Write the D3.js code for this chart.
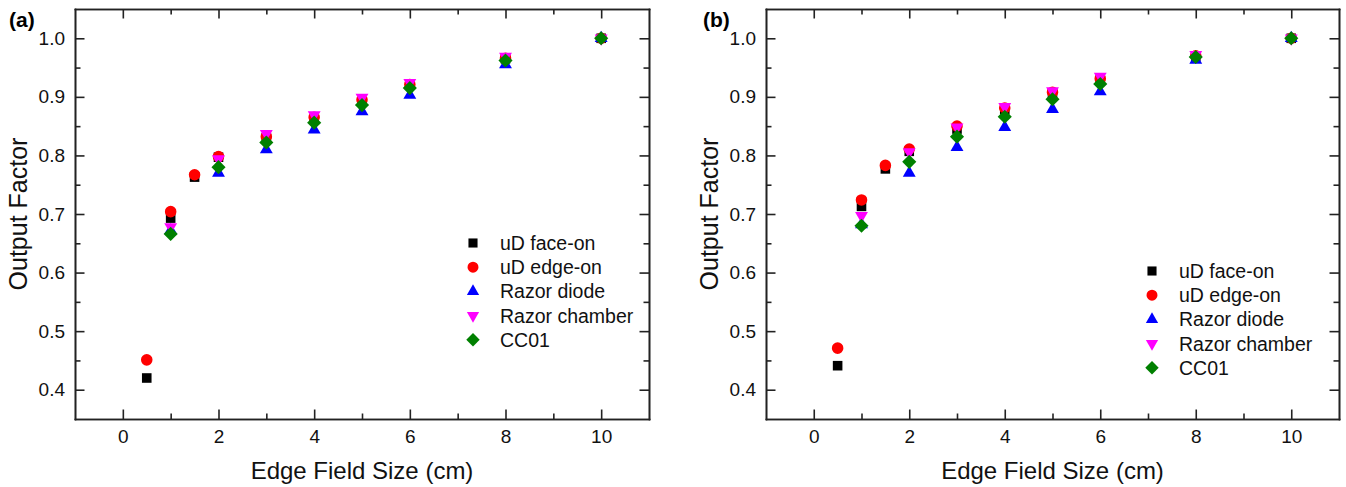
<!DOCTYPE html>
<html>
<head>
<meta charset="utf-8">
<script src="https://cdn.jsdelivr.net/npm/d3@7"></script>
<style>
  html, body { margin: 0; padding: 0; background: #fff; }
  svg { display: block; font-family: "Liberation Sans", Arial, Helvetica, sans-serif; }
  .axis path, .axis line { stroke: #222; stroke-width: 1.6; }
  .axis text { fill: #111; font-size: 19px; }
</style>
</head>
<body>
<svg id="chart" width="1346" height="487"></svg>
<script>
// Field sizes (cm)
const sizesMicroDiamond = [0.5, 1, 1.5, 2, 3, 4, 5, 6, 8, 10];
const sizesOther = [1, 2, 3, 4, 5, 6, 8, 10];

// Panel (a) output factors
const faceOnA       = [0.420, 0.693, 0.763, 0.797, 0.830, 0.862, 0.892, 0.920, 0.965, 1.000];
const edgeOnA       = [0.451, 0.704, 0.767, 0.798, 0.832, 0.865, 0.895, 0.921, 0.966, 1.000];
const razorDiodeA   = [0.672, 0.770, 0.810, 0.844, 0.875, 0.903, 0.955, 1.000];
const razorChamberA = [0.678, 0.794, 0.837, 0.869, 0.899, 0.924, 0.969, 1.000];
const cc01A         = [0.666, 0.780, 0.822, 0.856, 0.886, 0.915, 0.962, 1.000];

// Panel (b) output factors
const faceOnB       = [0.441, 0.713, 0.777, 0.807, 0.845, 0.878, 0.905, 0.930, 0.969, 1.000];
const edgeOnB       = [0.471, 0.724, 0.783, 0.811, 0.850, 0.881, 0.908, 0.931, 0.970, 1.000];
const razorDiodeB   = [0.682, 0.770, 0.814, 0.848, 0.879, 0.909, 0.963, 1.000];
const razorChamberB = [0.697, 0.806, 0.848, 0.883, 0.910, 0.935, 0.972, 1.000];
const cc01B         = [0.680, 0.789, 0.832, 0.866, 0.896, 0.922, 0.968, 1.000];

const seriesNames = ["uD face-on", "uD edge-on", "Razor diode", "Razor chamber", "CC01"];
const seriesColors = ["#000000", "#ff0000", "#0000ff", "#ff00ff", "#008000"];

const xTicksMajor = [0, 2, 4, 6, 8, 10];
const xTicksMinor = [1, 3, 5, 7, 9];
const yTicksMajor = [0.4, 0.5, 0.6, 0.7, 0.8, 0.9, 1.0];
const yTicksMinor = [0.45, 0.55, 0.65, 0.75, 0.85, 0.95];

const xLabel = "Edge Field Size (cm)";
const yLabel = "Output Factor";

// Marker shapes for each series
const shapes = [
  { type: d3.symbolSquare, size: 92, rotate: 0 },
  { type: d3.symbolCircle, size: 105, rotate: 0 },
  { type: d3.symbolTriangle, size: 72, rotate: 0 },
  { type: d3.symbolTriangle, size: 72, rotate: 180 },
  { type: d3.symbolSquare, size: 100, rotate: 45 }
];

const svg = d3.select("#chart");

function drawPanel(cfg) {
  const { left, top, width, height, tag, values, legendX, legendY } = cfg;
  const g = svg.append("g").attr("transform", `translate(${left},${top})`);

  const x = d3.scaleLinear().domain([-1, 11]).range([0, width]);
  const y = d3.scaleLinear().domain([0.35, 1.05]).range([height, 0]);

  const major = 9.5, minor = 5.5;

  // Minor ticks (all four sides)
  g.append("g").attr("class", "axis").attr("transform", `translate(0,${height})`)
    .call(d3.axisBottom(x).tickValues(xTicksMinor).tickSize(-minor).tickSizeOuter(0).tickFormat(""));
  g.append("g").attr("class", "axis")
    .call(d3.axisTop(x).tickValues(xTicksMinor).tickSize(-minor).tickSizeOuter(0).tickFormat(""));
  g.append("g").attr("class", "axis")
    .call(d3.axisLeft(y).tickValues(yTicksMinor).tickSize(-minor).tickSizeOuter(0).tickFormat(""));
  g.append("g").attr("class", "axis").attr("transform", `translate(${width},0)`)
    .call(d3.axisRight(y).tickValues(yTicksMinor).tickSize(-minor).tickSizeOuter(0).tickFormat(""));

  // Major ticks with labels on bottom and left, mirrored unlabeled on top and right
  g.append("g").attr("class", "axis").attr("transform", `translate(0,${height})`)
    .call(d3.axisBottom(x).tickValues(xTicksMajor).tickSize(-major).tickSizeOuter(0)
      .tickPadding(11).tickFormat(d3.format("d")));
  g.append("g").attr("class", "axis")
    .call(d3.axisTop(x).tickValues(xTicksMajor).tickSize(-major).tickSizeOuter(0).tickFormat(""));
  g.append("g").attr("class", "axis")
    .call(d3.axisLeft(y).tickValues(yTicksMajor).tickSize(-major).tickSizeOuter(0)
      .tickPadding(10).tickFormat(d3.format(".1f")));
  g.append("g").attr("class", "axis").attr("transform", `translate(${width},0)`)
    .call(d3.axisRight(y).tickValues(yTicksMajor).tickSize(-major).tickSizeOuter(0).tickFormat(""));

  g.selectAll(".axis path").attr("stroke-linecap", "square");

  // Axis titles
  g.append("text")
    .attr("x", width / 2).attr("y", height + 60)
    .attr("text-anchor", "middle")
    .attr("font-size", 24).attr("fill", "#111")
    .text(xLabel);
  g.append("text")
    .attr("transform", `translate(${-48},${height / 2}) rotate(-90)`)
    .attr("text-anchor", "middle")
    .attr("font-size", 25).attr("fill", "#111")
    .text(yLabel);

  // Panel tag
  svg.append("text")
    .attr("x", cfg.tagX).attr("y", 27)
    .attr("font-size", 21).attr("font-weight", "bold").attr("fill", "#000")
    .text(tag);

  // Data markers
  values.forEach((vals, i) => {
    const xs = i < 2 ? sizesMicroDiamond : sizesOther;
    const pts = xs.map((s, j) => ({ s, v: vals[j] }));
    const sym = d3.symbol().type(shapes[i].type).size(shapes[i].size);
    g.append("g").selectAll("path").data(pts).join("path")
      .attr("d", sym)
      .attr("transform", d => {
        const tx = x(d.s), ty = y(d.v);
        return shapes[i].rotate
          ? `translate(${tx},${ty}) rotate(${shapes[i].rotate})`
          : `translate(${tx},${ty})`;
      })
      .attr("fill", seriesColors[i]);
  });

  // Legend
  const lg = svg.append("g").attr("transform", `translate(${legendX},${legendY})`);
  seriesNames.forEach((name, i) => {
    const row = lg.append("g").attr("transform", `translate(0,${i * 24.2})`);
    const sym = d3.symbol().type(shapes[i].type).size(shapes[i].size * 0.9);
    row.append("path").attr("d", sym)
      .attr("transform", shapes[i].rotate ? `rotate(${shapes[i].rotate})` : null)
      .attr("fill", seriesColors[i]);
    row.append("text").attr("x", 27).attr("dy", "0.36em")
      .attr("font-size", 19.5).attr("fill", "#111")
      .text(name);
  });
}

drawPanel({
  left: 75, top: 9, width: 574, height: 410, tag: "(a)", tagX: 9,
  values: [faceOnA, edgeOnA, razorDiodeA, razorChamberA, cc01A],
  legendX: 473, legendY: 243
});

drawPanel({
  left: 766, top: 9, width: 573, height: 410, tag: "(b)", tagX: 703,
  values: [faceOnB, edgeOnB, razorDiodeB, razorChamberB, cc01B],
  legendX: 1152, legendY: 271
});
</script>
</body>
</html>
